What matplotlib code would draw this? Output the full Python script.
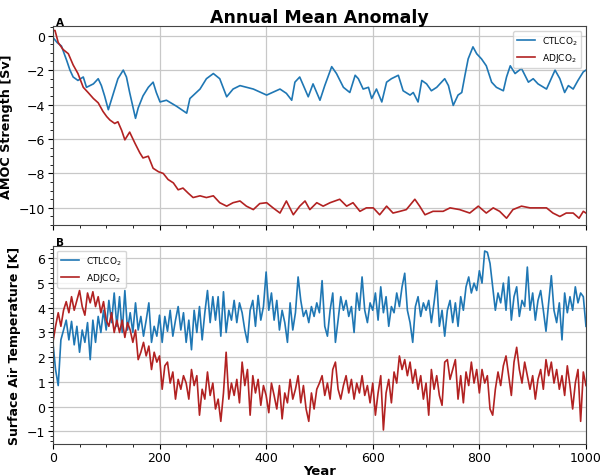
import numpy as np
import matplotlib
matplotlib.use('Agg')
import matplotlib.pyplot as plt
from matplotlib.ticker import AutoMinorLocator, MultipleLocator

# Panel A: AMOC strength anomaly (smoothed)
amoc_ctl_years = [0, 8, 16, 26, 32, 38, 47, 57, 63, 76, 85, 91, 97, 104, 113, 122, 132, 138, 144, 155,
                  160, 169, 179, 188, 194, 201, 213, 232, 251, 257, 276, 288, 301, 313, 326, 338, 351,
                  376, 401, 426, 438, 448, 454, 463, 470, 479, 488, 501, 510, 523, 532, 545, 557, 567,
                  573, 582, 592, 598, 607, 617, 626, 635, 648, 657, 670, 676, 685, 692, 701, 710, 720,
                  729, 735, 742, 751, 760, 767, 773, 779, 788, 795, 804, 813, 823, 832, 845, 851, 858,
                  867, 879, 892, 901, 910, 926, 942, 951, 960, 967, 976, 985, 995, 1000]
amoc_ctl = [-0.1, -0.4, -0.6, -1.45, -2.0, -2.4, -2.6, -2.4, -3.0, -2.8, -2.5, -2.9, -3.5, -4.3, -3.4,
            -2.5, -2.0, -2.4, -3.3, -4.8, -4.2, -3.5, -3.0, -2.7, -3.3, -3.85, -3.75, -4.1, -4.5, -3.65,
            -3.1, -2.5, -2.2, -2.5, -3.55, -3.1, -2.9, -3.1, -3.45, -3.1, -3.35, -3.75, -2.7, -2.4,
            -2.9, -3.55, -2.8, -3.75, -2.9, -1.8, -2.2, -3.0, -3.3, -2.3, -2.5, -3.1, -3.0, -3.65,
            -3.1, -3.85, -2.7, -2.5, -2.3, -3.2, -3.45, -3.3, -3.85, -2.6, -2.8, -3.2, -3.0, -2.7,
            -2.5, -2.9, -4.05, -3.45, -3.3, -2.3, -1.35, -0.65, -1.05, -1.35, -1.75, -2.7, -3.0,
            -3.2, -2.4, -1.75, -2.2, -1.9, -2.7, -2.5, -2.8, -3.1, -2.0, -2.5, -3.3, -2.9, -3.1,
            -2.6, -2.1, -2.0]

amoc_adj_years = [0, 4, 10, 19, 29, 38, 47, 57, 66, 76, 85, 94, 101, 107, 116, 122, 129, 135, 144, 154,
                  163, 169, 179, 188, 198, 207, 216, 226, 235, 244, 254, 263, 276, 288, 301, 313, 326,
                  338, 351, 363, 376, 388, 401, 413, 426, 438, 451, 463, 473, 482, 495, 507, 520, 538,
                  551, 563, 576, 588, 601, 613, 626, 638, 651, 663, 679, 688, 698, 713, 732, 745, 763,
                  782, 798, 813, 826, 838, 851, 863, 879, 895, 910, 926, 938, 951, 963, 976, 987, 995,
                  1000]
amoc_adj = [0.3, 0.3, -0.4, -0.8, -1.05, -1.7, -2.2, -3.0, -3.3, -3.65, -3.9, -4.4, -4.7, -4.9, -5.1,
            -5.0, -5.5, -6.05, -5.6, -6.25, -6.8, -7.1, -7.0, -7.7, -7.9, -8.0, -8.35, -8.55, -8.95,
            -8.85, -9.15, -9.4, -9.3, -9.4, -9.3, -9.7, -9.9, -9.7, -9.6, -9.9, -10.1, -9.75, -9.7,
            -10.0, -10.3, -9.6, -10.4, -9.9, -9.6, -10.1, -9.7, -9.9, -9.7, -9.5, -9.9, -9.7, -10.2,
            -10.0, -10.0, -10.4, -9.9, -10.3, -10.2, -10.1, -9.5, -9.9, -10.4, -10.2, -10.2, -10.0,
            -10.1, -10.3, -9.9, -10.3, -10.0, -10.2, -10.6, -10.1, -9.9, -10.0, -10.0, -10.0, -10.3,
            -10.5, -10.3, -10.3, -10.6, -10.2, -10.3]

# Panel B: surface air temperature anomaly, one value every 5 years
sat_years = np.arange(0, 1001, 5)
sat_ctl = [2.6, 1.5, 0.85, 2.7, 3.1, 3.5, 2.7, 3.45, 2.5, 3.25,
           2.2, 3.1, 2.6, 3.4, 1.9, 3.5, 2.6, 3.65, 3.0, 3.9,
           3.1, 4.3, 3.4, 4.6, 3.25, 4.45, 3.0, 4.7, 3.1, 3.8,
           3.0, 4.2, 3.1, 3.65, 2.85, 3.5, 4.2, 2.6, 3.25, 2.85,
           3.7, 2.6, 3.65, 3.05, 3.9, 2.85, 3.5, 4.05, 3.1, 3.8,
           2.6, 3.5, 2.3, 3.9, 3.0, 4.05, 2.7, 3.8, 4.7, 3.4,
           4.45, 3.5, 4.45, 2.85, 4.65, 3.0, 3.9, 3.5, 4.3, 3.4,
           4.2, 3.8, 3.1, 2.6, 3.9, 4.3, 3.25, 4.5, 3.5, 4.05,
           5.45, 3.9, 4.6, 3.5, 4.3, 3.1, 3.9, 3.4, 2.6, 4.2,
           3.1, 3.8, 5.25, 4.3, 3.65, 3.9, 3.4, 4.05, 3.65, 4.2,
           3.8,
           5.1, 3.25, 2.85, 3.9, 4.6, 2.6, 3.5, 4.45, 3.9, 4.3,
           3.65, 4.05, 3.0, 4.6, 3.9, 5.25, 3.9, 3.4, 4.2, 3.9,
           4.6, 3.5, 4.85, 3.8, 4.45, 3.25, 4.05, 3.8, 4.6, 4.05,
           4.85, 5.4, 3.9, 3.4, 2.6, 4.05, 4.45, 3.65, 4.2, 3.9,
           4.3, 3.4, 4.2, 5.1, 3.25, 3.9, 2.85, 3.9, 4.3, 3.4,
           4.2, 3.25, 4.45, 3.9, 4.85, 5.25, 4.6, 5.0, 4.7, 5.5,
           5.0, 6.3, 6.25, 5.8, 4.85, 3.9, 4.6, 4.2, 5.0, 3.9,
           5.25, 3.5, 4.45, 4.85, 3.65, 4.3, 4.05, 5.65, 3.9, 4.6,
           3.5, 4.3, 4.7, 3.9, 3.05, 4.2, 5.3, 3.9, 3.4, 4.2,
           2.7, 4.6, 3.8, 4.45, 3.9, 4.85, 4.2, 4.6, 4.45, 3.25]
sat_adj = [2.6, 3.25, 3.8, 3.25, 3.9, 4.25, 3.8, 4.45, 3.9, 4.3,
           4.7, 4.05, 3.7, 4.6, 4.2, 4.65, 4.05, 4.45, 3.8, 4.25,
           3.5, 3.25, 3.8, 3.0, 3.5, 3.0, 3.5, 2.8, 3.4, 3.1,
           2.6, 3.1, 1.9, 2.2, 2.6, 2.05, 2.45, 1.5, 2.2, 1.8,
           2.05, 0.7, 1.65, 1.8, 0.95, 1.4, 0.3, 1.1, 0.7, 1.25,
           0.95, 0.3, 1.5, 0.85, 1.25, -0.35, 0.7, 0.3, 1.4, 0.45,
           0.95, -0.1, 0.3, -0.6, 0.55, 2.2, 0.3, 0.95, 0.45, 1.1,
           0.15, 1.8, 0.85, 1.5, -0.35, 1.25, 0.55, 1.1, 0.05, 0.85,
           0.45, -0.25, 0.95, 0.45, -0.1, 0.85, -0.5, 0.55, 0.15, 1.1,
           0.3, 0.7, 1.25, 0.15, 0.85, -0.1, -0.6, 0.55, -0.1, 0.7,
           0.95,
           1.25, 0.45, 0.95, 0.3, 1.5, 1.8, 0.7, 0.3, 0.85, 1.25,
           0.55, 1.1, 0.3, 0.95, 0.55, 1.25, 0.45, 0.85, 0.15, 0.95,
           -0.35, 0.55, 1.25, -0.95, 0.55, 1.1, 0.15, 1.4, 0.95, 2.05,
           1.5, 1.9, 1.25, 1.8, 0.95, 1.5, 0.7, 1.25, 0.3, 0.95,
           -0.35, 1.5, 0.7, 1.25, 0.45, 0.05, 1.8, 1.9, 1.1, 1.5,
           1.9, 0.3, 1.25, 0.15, 1.4, 0.85, 1.8, 0.95, 1.5, 0.55,
           1.5, 0.95, 1.25, -0.1, -0.35, 0.7, 1.4, 0.85, 1.65, 2.05,
           1.25, 0.45, 1.8, 2.4, 1.5, 0.95, 1.8, 1.25, 0.7, 1.25,
           0.3, 1.1, 1.5, 0.7, 1.9, 1.25, 1.8, 0.95, 1.5, 0.7,
           1.25, 0.45, 1.65, 0.85, -0.1, 0.95, 1.5, -0.6, 1.4, 0.85]

ctl_color = '#1f77b4'
adj_color = '#b22222'

fig = plt.figure(figsize=(6.01, 4.77), dpi=100)
ax1 = fig.add_axes([0.088, 0.526, 0.887, 0.417])
ax2 = fig.add_axes([0.088, 0.068, 0.887, 0.414], sharex=ax1)

# Top panel
ax1.plot(amoc_ctl_years, amoc_ctl, color=ctl_color, lw=1.2, label=r'CTLCO$_2$')
ax1.plot(amoc_adj_years, amoc_adj, color=adj_color, lw=1.2, label=r'ADJCO$_2$')
ax1.set_ylim(-11, 0.55)
ax1.yaxis.set_major_locator(MultipleLocator(2))
ax1.yaxis.set_minor_locator(AutoMinorLocator(4))
ax1.set_ylabel('AMOC Strength [Sv]', fontweight='bold', fontsize=9.2, labelpad=4)
ax1.set_title('Annual Mean Anomaly', fontweight='bold', fontsize=12.5, pad=3)
ax1.legend(loc='upper right', fontsize=6.5)
ax1.text(0.005, 1.008, 'A', transform=ax1.transAxes, fontweight='bold', fontsize=7.5)
ax1.tick_params(labelbottom=False)

# Bottom panel
ax2.plot(sat_years, sat_ctl, color=ctl_color, lw=1.2, label=r'CTLCO$_2$')
ax2.plot(sat_years, sat_adj, color=adj_color, lw=1.2, label=r'ADJCO$_2$')
ax2.set_ylim(-1.5, 6.5)
ax2.set_xlim(0, 1000)
ax2.set_xticks([0, 200, 400, 600, 800, 1000])
ax2.yaxis.set_major_locator(MultipleLocator(1))
ax2.yaxis.set_minor_locator(AutoMinorLocator(5))
ax2.set_ylabel('Surface Air Temperature [K]', fontweight='bold', fontsize=9, labelpad=4)
ax2.set_xlabel('Year', fontweight='bold', fontsize=9.5, labelpad=0)
ax2.legend(loc='upper left', fontsize=6.5)
ax2.text(0.005, 1.008, 'B', transform=ax2.transAxes, fontweight='bold', fontsize=7.5)

for ax in (ax1, ax2):
    ax.xaxis.set_minor_locator(AutoMinorLocator(4))
    ax.grid(True, which='major', color='#c8c8c8', lw=0.9)
    ax.set_axisbelow(True)
    ax.tick_params(labelsize=9, pad=2)
    for s in ax.spines.values():
        s.set_color('#444444')

plt.savefig('out.png', dpi=100)
